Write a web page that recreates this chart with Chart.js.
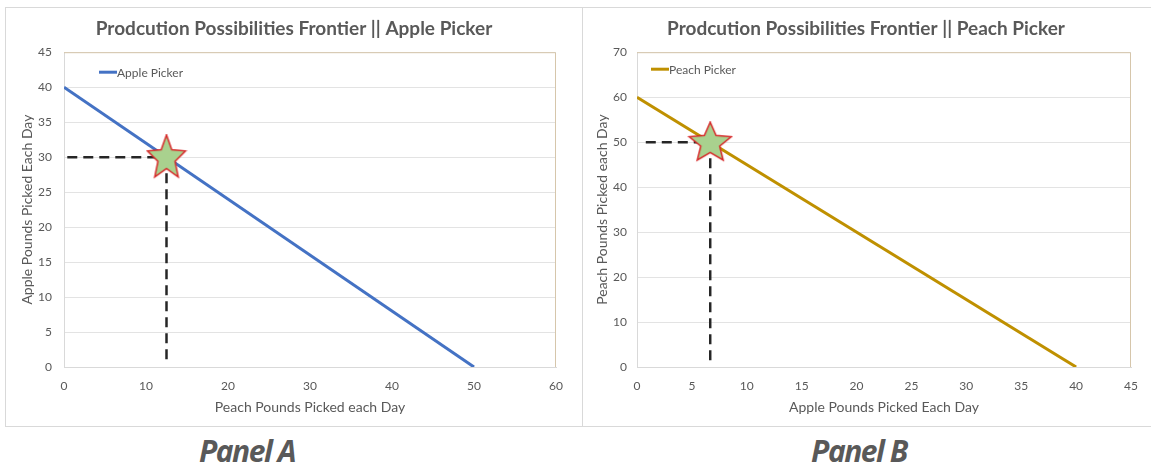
<!DOCTYPE html>
<html>
<head>
<meta charset="utf-8">
<script src="https://cdn.jsdelivr.net/npm/chart.js@4"></script>
<style>
  body { margin: 0; background: #fff; width: 1151px; height: 475px; overflow: hidden; position: relative; font-family: Lato, sans-serif; }
  .box { position: absolute; top: 7px; height: 420px; box-sizing: border-box; border: 1px solid #d9d9d9; }
  #boxA { left: 5px; width: 578px; }
  #boxB { left: 582px; width: 600px; border-left: none; }
  canvas { position: absolute; top: 0; }
  .panel { position: absolute; top: 430px; font: italic bold 30px "Open Sans", sans-serif; color: #595959; letter-spacing: -1.5px; width: 200px; text-align: center; }
</style>
</head>
<body>
<div class="box" id="boxA"><canvas id="chartA" width="576" height="418" style="left:0"></canvas></div>
<div class="box" id="boxB"><canvas id="chartB" width="568" height="418" style="left:0"></canvas></div>
<div class="panel" style="left:147px">Panel A</div>
<div class="panel" style="left:759px">Panel B</div>
<script>
// Panel A: apple picker
const appleFrontierX = [0, 50];
const appleFrontierY = [40, 0];
const appleChoice = [12.5, 30];
const appleXRange = [0, 60, 10];
const appleYRange = [0, 45, 5];
const appleGuideStart = [0.4, 0.6];   // where the dashed guides stop near the axes

// Panel B: peach picker
const peachFrontierX = [0, 40];
const peachFrontierY = [60, 0];
const peachChoice = [6.67, 50];
const peachXRange = [0, 45, 5];
const peachYRange = [0, 70, 10];
const peachGuideStart = [0.8, 0.7];

const grey = '#595959';
Chart.defaults.font.family = 'Lato';
Chart.defaults.color = grey;

function makeStar(w, h) {
  const c = document.createElement('canvas');
  c.width = w + 4; c.height = h + 4;
  const ctx = c.getContext('2d');
  const cx = c.width / 2, cy = c.height / 2 + 1;
  ctx.beginPath();
  for (let i = 0; i < 10; i++) {
    const a = -Math.PI / 2 + i * Math.PI / 5;
    const r = i % 2 ? 0.45 : 1;
    ctx.lineTo(cx + Math.cos(a) * r * w / 2 / 0.951, cy + Math.sin(a) * r * h / 1.809 );
  }
  ctx.closePath();
  ctx.fillStyle = '#a9d18e';
  ctx.fill();
  ctx.strokeStyle = '#d62828';
  ctx.lineWidth = 1.5;
  ctx.stroke();
  return c;
}

// chart title centred on the whole canvas (the built-in one centres on the padded box)
const boxTitle = {
  id: 'boxTitle',
  afterDraw(chart, args, opts) {
    const ctx = chart.ctx;
    ctx.save();
    ctx.fillStyle = grey;
    ctx.font = 'bold 19px Lato';
    ctx.textAlign = 'center';
    ctx.textBaseline = 'middle';
    ctx.fillText(opts.text, chart.width / 2, 21);
    ctx.restore();
  }
};

const inlineLegend = {
  id: 'inlineLegend',
  afterDatasetsDraw(chart, args, opts) {
    const ds = chart.data.datasets.find(d => d.inLegend);
    const x = chart.chartArea.left + opts.dx, y = chart.chartArea.top + opts.dy;
    const ctx = chart.ctx;
    ctx.save();
    ctx.strokeStyle = ds.borderColor;
    ctx.lineWidth = 3;
    ctx.beginPath(); ctx.moveTo(x, y); ctx.lineTo(x + 18, y); ctx.stroke();
    ctx.fillStyle = grey;
    ctx.font = '12px Lato';
    ctx.textBaseline = 'middle';
    ctx.fillText(ds.label, x + 18, y + 1);
    ctx.restore();
  }
};

const plotFrame = {
  id: 'plotFrame',
  beforeDatasetsDraw(chart) {
    const {left, right, top, bottom} = chart.chartArea;
    const ctx = chart.ctx;
    ctx.save();
    ctx.strokeStyle = '#d6c6ab';
    ctx.lineWidth = 1;
    ctx.beginPath();
    ctx.moveTo(left, top + 0.5); ctx.lineTo(right - 0.5, top + 0.5); ctx.lineTo(right - 0.5, bottom);
    ctx.stroke();
    ctx.restore();
  }
};

function buildChart(id, p) {
  const pts = p.fx.map((x, i) => ({x: x, y: p.fy[i]}));
  const [cx, cy] = p.choice;
  return new Chart(document.getElementById(id), {
    type: 'scatter',
    data: {
      datasets: [
        {
          label: 'choice',
          data: [{x: cx, y: cy}],
          pointStyle: makeStar(p.starW, p.starH),
          order: 0
        },
        {
          label: 'guides',
          data: [{x: p.guide[0], y: cy}, {x: cx, y: cy}, {x: NaN, y: NaN}, {x: cx, y: cy}, {x: cx, y: p.guide[1]}],
          showLine: true,
          spanGaps: false,
          borderColor: '#262626',
          borderWidth: 2.5,
          borderDash: [10, 6],
          pointRadius: 0,
          order: 1
        },
        {
          label: p.label,
          inLegend: true,
          data: pts,
          showLine: true,
          borderColor: p.color,
          borderWidth: 3,
          pointRadius: 0,
          order: 2
        }
      ]
    },
    options: {
      responsive: false,
      animation: false,
      layout: { padding: { left: 0, right: p.padRight, top: 44.2, bottom: 0 } },
      plugins: {
        legend: { display: false },
        tooltip: { enabled: false },
        title: { display: false },
        boxTitle: { text: p.title },
        inlineLegend: p.legend
      },
      scales: {
        x: {
          type: 'linear',
          min: p.xr[0], max: p.xr[1],
          ticks: { stepSize: p.xr[2], padding: 12, color: grey, font: { size: 12 } },
          grid: { display: false, drawTicks: false },
          border: { display: true, color: '#d9d9d9' },
          title: { display: true, text: p.xTitle, color: grey, font: { size: 14 }, padding: { bottom: 10 } },
          afterFit: s => { s.height = 59; }
        },
        y: {
          min: p.yr[0], max: p.yr[1],
          ticks: { stepSize: p.yr[2], padding: p.tickPad, color: grey, font: { size: 12 } },
          grid: { color: '#e3e3e3', drawTicks: false },
          border: { display: true, color: '#d9d9d9' },
          title: { display: true, text: p.yTitle, color: grey, font: { size: 14 }, padding: { top: p.yTitlePad } },
          afterFit: s => { s.width = p.yWidth; }
        }
      }
    },
    plugins: [plotFrame, inlineLegend, boxTitle]
  });
}

buildChart('chartA', {
  fx: appleFrontierX, fy: appleFrontierY, choice: appleChoice, guide: appleGuideStart,
  xr: appleXRange, yr: appleYRange,
  label: 'Apple Picker', color: '#4472c4',
  title: 'Prodcution Possibilities Frontier || Apple Picker',
  xTitle: 'Peach Pounds Picked each Day', yTitle: 'Apple Pounds Picked Each Day',
  yWidth: 58, padRight: 26, tickPad: 12, yTitlePad: 13.5,
  starW: 38, starH: 42, legend: { dx: 35, dy: 20 }
});

buildChart('chartB', {
  fx: peachFrontierX, fy: peachFrontierY, choice: peachChoice, guide: peachGuideStart,
  xr: peachXRange, yr: peachYRange,
  label: 'Peach Picker', color: '#bf9000',
  title: 'Prodcution Possibilities Frontier || Peach Picker',
  xTitle: 'Apple Pounds Picked Each Day', yTitle: 'Peach Pounds Picked each Day',
  yWidth: 55, padRight: 19, tickPad: 10, yTitlePad: 12.5,
  starW: 42, starH: 38, legend: { dx: 14, dy: 17 }
});
</script>
</body>
</html>
